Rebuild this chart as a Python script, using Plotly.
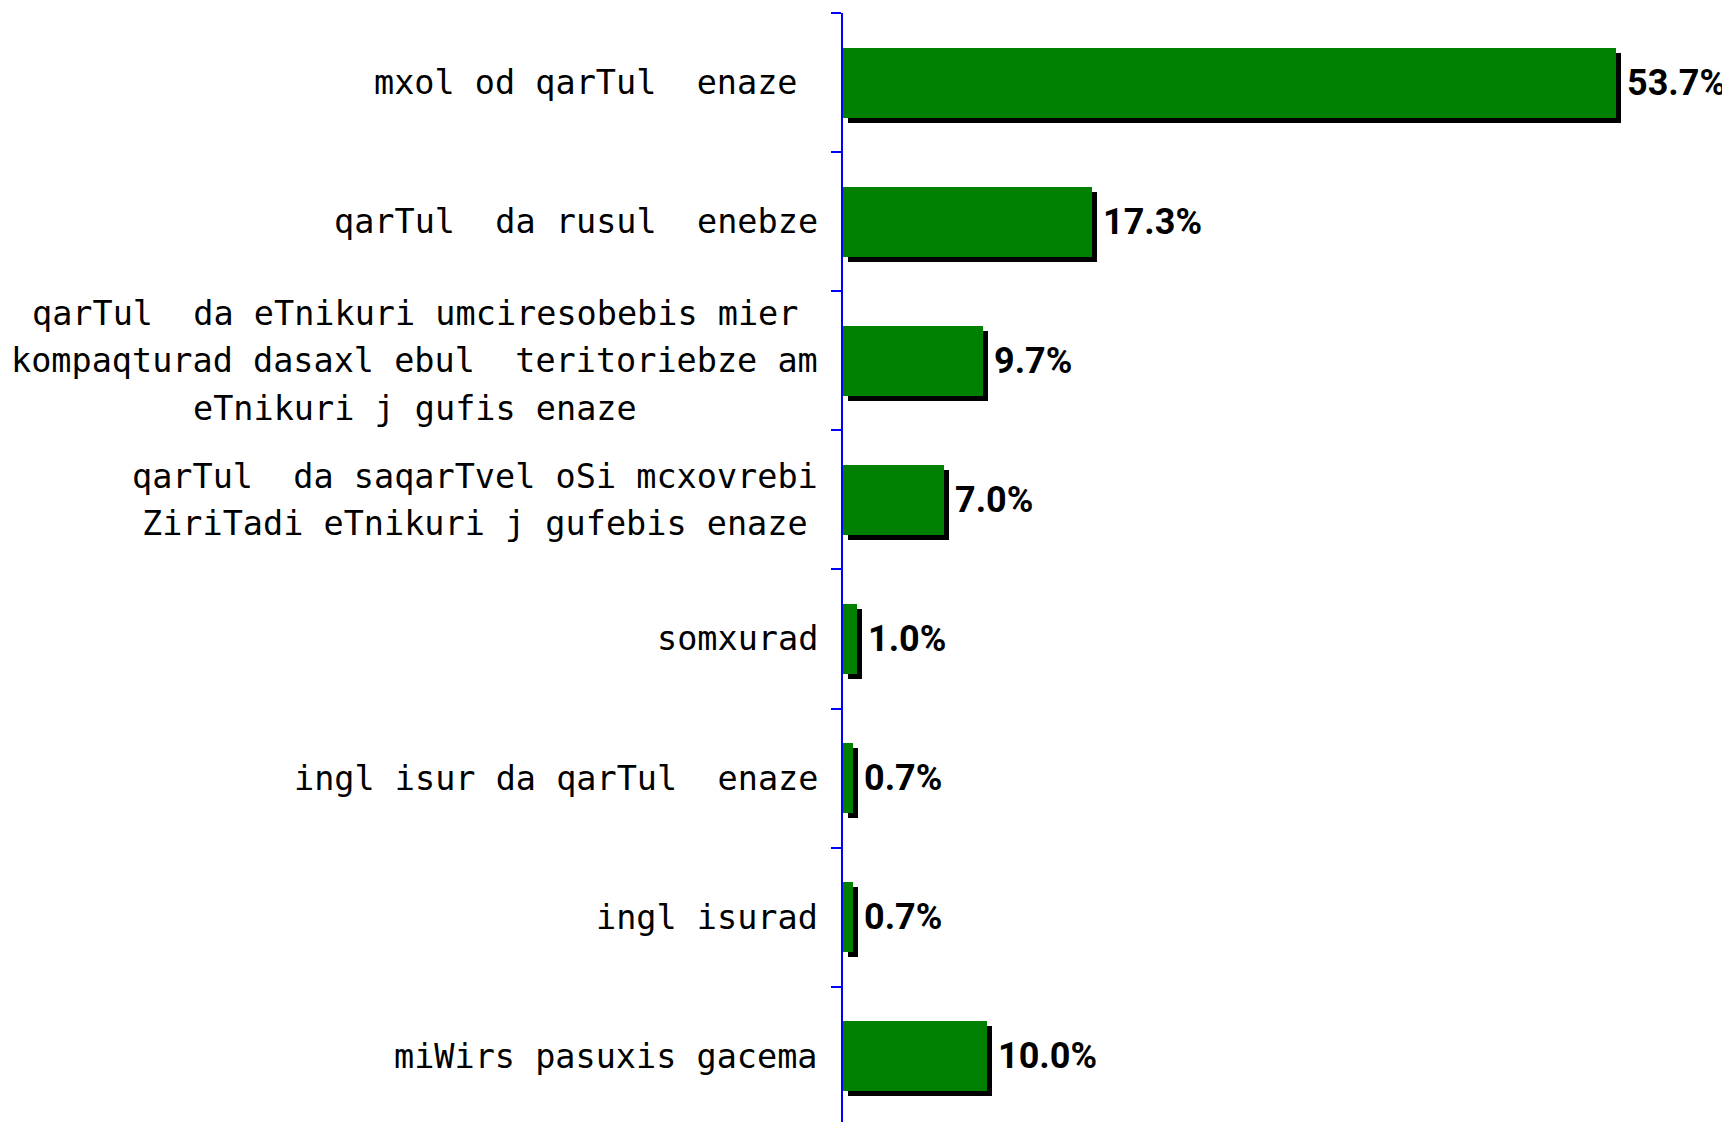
import plotly.graph_objects as go

# ---- data ----
categories = [
    "mxol od qarTul  enaze ",
    "qarTul  da rusul  enebze",
    "qarTul  da eTnikuri umciresobebis mier<br>kompaqturad dasaxl ebul  teritoriebze am<br>eTnikuri j gufis enaze",
    "qarTul  da saqarTvel oSi mcxovrebi<br>ZiriTadi eTnikuri j gufebis enaze",
    "somxurad",
    "ingl isur da qarTul  enaze",
    "ingl isurad",
    "miWirs pasuxis gacema",
]
values = [53.7, 17.3, 9.7, 7.0, 1.0, 0.7, 0.7, 10.0]
value_labels = [f"{v:.1f}%" for v in values]

# ---- layout constants ----
BODY = 8                      # default page body margin
W, H = 1730 - BODY, 1122 - BODY
ML, MR, MT, MB = 843 - BODY, 0, 13 - BODY, 0
PX_PER_PCT = 14.4
plot_w = W - ML - MR
XMAX = plot_w / PX_PER_PCT
cat_px = 139.1
plot_h = H - MT - MB
YBOTTOM = -0.5 + plot_h / cat_px

BAR_W = 0.503
SH_DX = 5 * XMAX / plot_w      # shadow offset in data units (5px)
SH_DY = 5 / cat_px             # 5px

LABEL_SIZE = 33.5
CHAR_W = 0.602 * LABEL_SIZE    # monospace advance
LINE_PX = 47.4
LABEL_GAP = 25

nb = lambda s: s.replace(" ", "\u00a0")
cats = [nb(c) for c in categories]

fig = go.Figure()
fig.add_trace(go.Bar(
    y=cats, x=values, base=[SH_DX] * len(values), orientation="h",
    width=BAR_W, offset=-BAR_W / 2 + SH_DY,
    marker=dict(color="black", line=dict(width=0)),
    hoverinfo="skip", showlegend=False,
))
fig.add_trace(go.Bar(
    y=cats, x=values, orientation="h",
    width=BAR_W, offset=-BAR_W / 2,
    marker=dict(color="#008000", line=dict(width=0)),
    hoverinfo="skip", showlegend=False,
))

for c, v, t in zip(cats, values, value_labels):
    fig.add_annotation(
        x=v, y=c, xref="x", yref="y", text=t, showarrow=False,
        xanchor="left", yanchor="middle", xshift=SH_DX * plot_w / XMAX + 4, yshift=0,
        font=dict(family="Roboto, Liberation Sans Narrow, sans-serif",
                  size=36, color="black", weight="bold"),
    )
    lines = c.split("<br>")
    n = len(lines)
    maxw = max(len(l) for l in lines) * CHAR_W
    for i, ln in enumerate(lines):
        fig.add_annotation(
            x=0, y=c, xref="paper", yref="y", text=ln, showarrow=False,
            xanchor="center", yanchor="middle",
            xshift=-LABEL_GAP - maxw / 2,
            yshift=((n - 1) / 2 - i) * LINE_PX,
            borderpad=0,
            font=dict(family="DejaVu Sans Mono, Liberation Mono, monospace",
                      size=LABEL_SIZE, color="black"),
        )

fig.update_layout(
    width=W, height=H,
    margin=dict(l=ML, r=MR, t=MT, b=MB, pad=0),
    paper_bgcolor="white", plot_bgcolor="white",
    barmode="overlay", bargap=0,
    showlegend=False,
)
fig.update_xaxes(visible=False, range=[0, XMAX])
fig.update_yaxes(
    type="category", categoryorder="array", categoryarray=cats,
    range=[YBOTTOM, -0.5],
    showticklabels=False, showgrid=False, zeroline=False,
    showline=True, linecolor="#0000FF", linewidth=2,
    ticks="outside", tickson="boundaries", ticklen=10, tickwidth=2, tickcolor="#0000FF",
)

fig.write_html("out.html")
